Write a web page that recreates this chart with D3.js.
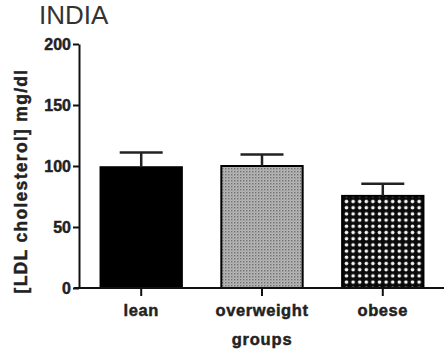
<!DOCTYPE html>
<html>
<head>
<meta charset="utf-8">
<script src="https://cdn.jsdelivr.net/npm/d3@7"></script>
<style>
  html, body { margin: 0; padding: 0; background: #fff; }
  svg { display: block; font-family: "Liberation Sans", Arial, Helvetica, sans-serif; }
</style>
</head>
<body>
<svg id="chart" width="444" height="354"></svg>
<script>
// LDL cholesterol by weight group (mean with upper SD bar)
const groups = ["lean", "overweight", "obese"];
const means = [99, 100, 75.5];
const errors = [12, 9.5, 10];
const yTicks = [0, 50, 100, 150, 200];
const fills = ["solid", "fine", "coarse"];

const svg = d3.select("#chart");
const defs = svg.append("defs");

// fine grey stipple
const fine = defs.append("pattern")
  .attr("id", "fine").attr("patternUnits", "userSpaceOnUse")
  .attr("width", 3).attr("height", 3);
fine.append("rect").attr("width", 3).attr("height", 3).attr("fill", "#b8b8b8");
fine.append("rect").attr("x", 0).attr("y", 0).attr("width", 1.4).attr("height", 1.4).attr("fill", "#6e6e6e");
fine.append("rect").attr("x", 1.5).attr("y", 1.5).attr("width", 1).attr("height", 1).attr("fill", "#8e8e8e");

// coarse white dots on black
const coarse = defs.append("pattern")
  .attr("id", "coarse").attr("patternUnits", "userSpaceOnUse")
  .attr("width", 6.6).attr("height", 6.2);
coarse.append("rect").attr("width", 6.6).attr("height", 6.2).attr("fill", "#0a0a0a");
coarse.append("circle").attr("cx", 3.3).attr("cy", 3.1).attr("r", 1.8).attr("fill", "#f4f4f4");

const fillFor = k => k === "solid" ? "#000" : `url(#${k})`;

const x = d3.scaleBand().domain(groups).range([79, 445]).paddingInner(0.31).paddingOuter(0.17);
const y = d3.scaleLinear().domain([0, 200]).range([288, 44]);

// bars
svg.append("g").selectAll("rect").data(groups).join("rect")
  .attr("x", d => x(d) + 1)
  .attr("y", (d, i) => y(means[i]))
  .attr("width", x.bandwidth() - 2)
  .attr("height", (d, i) => y(0) - y(means[i]))
  .attr("fill", (d, i) => fillFor(fills[i]))
  .attr("stroke", "#000").attr("stroke-width", 2);

// upper error bars
const eb = svg.append("g").attr("stroke", "#222").attr("stroke-width", 2.5);
groups.forEach((g, i) => {
  const cx = x(g) + x.bandwidth() / 2;
  eb.append("line").attr("x1", cx).attr("x2", cx)
    .attr("y1", y(means[i])).attr("y2", y(means[i] + errors[i]));
  eb.append("line").attr("x1", cx - 21.5).attr("x2", cx + 21.5)
    .attr("y1", y(means[i] + errors[i])).attr("y2", y(means[i] + errors[i]));
});

// bold label styling, slightly thickened
const heavy = sel => sel.attr("font-weight", "bold").attr("fill", "#222")
  .attr("stroke", "#222").attr("stroke-width", 0.45)
  .attr("font-family", "Liberation Sans, Arial, sans-serif");

// y axis
const yAxis = svg.append("g").attr("transform", "translate(79,0)")
  .call(d3.axisLeft(y).tickValues(yTicks).tickSize(6).tickPadding(2).tickSizeOuter(0));
yAxis.select(".domain").attr("stroke", "#111").attr("stroke-width", 2);
yAxis.selectAll(".tick line").attr("stroke", "#111").attr("stroke-width", 2);
yAxis.selectAll(".tick text").attr("font-size", 16).call(heavy);

// x axis
const xAxis = svg.append("g").attr("transform", "translate(0,288)")
  .call(d3.axisBottom(x).tickSize(8).tickPadding(8).tickSizeOuter(0));
xAxis.select(".domain").attr("d", "M74,0H444").attr("stroke", "#111").attr("stroke-width", 2);
xAxis.selectAll(".tick line").attr("stroke", "#111").attr("stroke-width", 2);
xAxis.selectAll(".tick text").attr("font-size", 16.5).attr("letter-spacing", 0.6).call(heavy);

// axis titles
svg.append("text").attr("x", 262).attr("y", 345)
  .attr("text-anchor", "middle").attr("font-size", 16.5)
  .attr("letter-spacing", 0.8).text("groups").call(heavy);

svg.append("text")
  .attr("transform", "translate(27,181) rotate(-90)")
  .attr("text-anchor", "middle").attr("font-size", 17.5)
  .attr("letter-spacing", 1.3).text("[LDL cholesterol] mg/dl").call(heavy);

// title
svg.append("text").attr("x", 39).attr("y", 24)
  .attr("font-size", 26).attr("fill", "#333").text("INDIA");
</script>
</body>
</html>
